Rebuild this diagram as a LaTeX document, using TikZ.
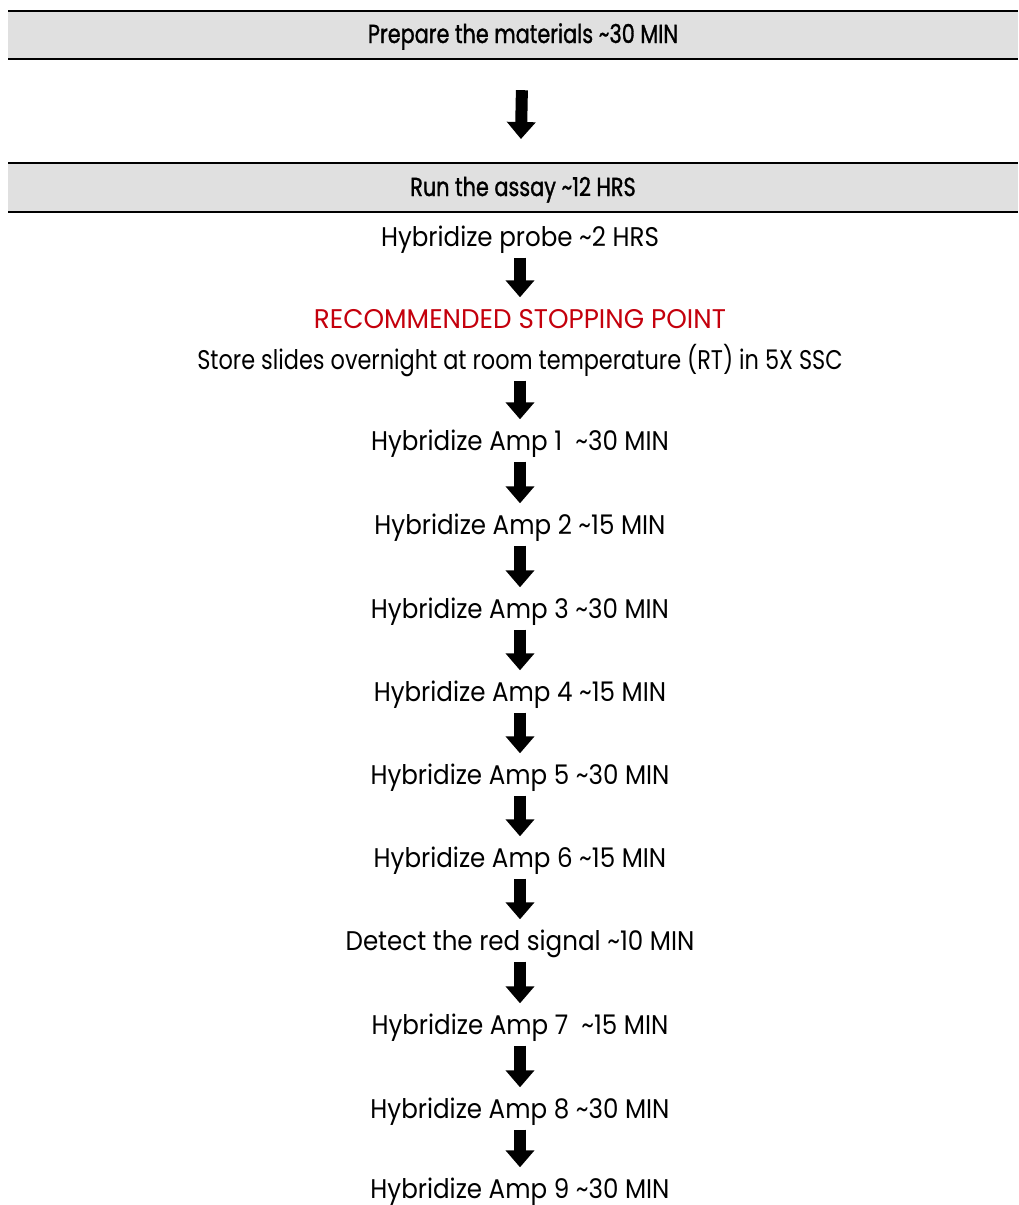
\documentclass[tikz,border=0pt]{standalone}
\usepackage{fontspec}
\setmainfont[FakeStretch=0.91]{Poppins}
\newfontfamily\narrowfont[FakeStretch=0.83]{Poppins}
\newfontfamily\capsfont[FakeStretch=0.97]{Poppins}
\newfontfamily\headfont[FakeStretch=0.8, FakeBold=1.2]{Poppins}
\usetikzlibrary{arrows.meta,positioning}

\definecolor{barfill}{HTML}{E0E0E0}
\definecolor{stopred}{HTML}{C4000C}
\newcommand{\apx}{\textasciitilde}

\tikzset{
  headtext/.style={inner sep=0pt, text height=18pt, text depth=0pt, font=\headfont\fontsize{26}{28}\selectfont},
  steptext/.style={inner sep=0pt, text height=19pt, text depth=0pt, font=\fontsize{27}{30}\selectfont},
  down/.style={line width=12pt, -{Triangle[width=28pt,length=17pt]}, shorten <=11pt, shorten >=12pt},
}

\begin{document}
\begin{tikzpicture}[x=1pt,y=-1pt]
\useasboundingbox (0,0) rectangle (1018,1205);
% grey header bars
\fill [barfill] (8,11) rectangle (1018,59);
\draw [line width=2pt] (8,11) -- (1018,11);
\draw [line width=2.6pt] (8,59) -- (1018,59);
\fill [barfill] (8,163) rectangle (1018,212);
\draw [line width=2pt] (8,163) -- (1018,163);
\draw [line width=2.6pt] (8,212) -- (1018,212);
\node [headtext] (prep) at (523,34) {Prepare the materials \apx30 MIN};
\node [headtext] (run) at (523,187) {Run the assay \apx12 HRS};
% steps
\node [steptext] (probe) at (520,237) {Hybridize probe \apx2 HRS};
\node [steptext, text=stopred] (stop) at (520,319) {\capsfont RECOMMENDED STOPPING POINT};
\node [steptext] (store) at (520,360) {\narrowfont Store slides overnight at room temperature (RT) in 5X SSC};
\node [steptext] (amp1) at (520,441) {Hybridize Amp 1 \ \apx30 MIN};
\node [steptext] (amp2) at (520,525) {Hybridize Amp 2 \apx15 MIN};
\node [steptext] (amp3) at (520,609) {Hybridize Amp 3 \apx30 MIN};
\node [steptext] (amp4) at (520,692) {Hybridize Amp 4 \apx15 MIN};
\node [steptext] (amp5) at (520,775) {Hybridize Amp 5 \apx30 MIN};
\node [steptext] (amp6) at (520,858) {Hybridize Amp 6 \apx15 MIN};
\node [steptext] (detect) at (520,941) {Detect the red signal \apx10 MIN};
\node [steptext] (amp7) at (520,1025) {Hybridize Amp 7 \ \apx15 MIN};
\node [steptext] (amp8) at (520,1109) {Hybridize Amp 8 \apx30 MIN};
\node [steptext] (amp9) at (520,1189) {Hybridize Amp 9 \apx30 MIN};
% arrows
\draw [down, shorten <=47pt, shorten >=48pt] (prep) -- ([xshift=-3pt]run.center);
\foreach \a/\b in {probe/stop, store/amp1, amp1/amp2, amp2/amp3, amp3/amp4,
                   amp4/amp5, amp5/amp6, amp6/detect, detect/amp7, amp7/amp8, amp8/amp9}
  \draw [down] (\a.south) -- (\b.north);
\end{tikzpicture}
\end{document}
